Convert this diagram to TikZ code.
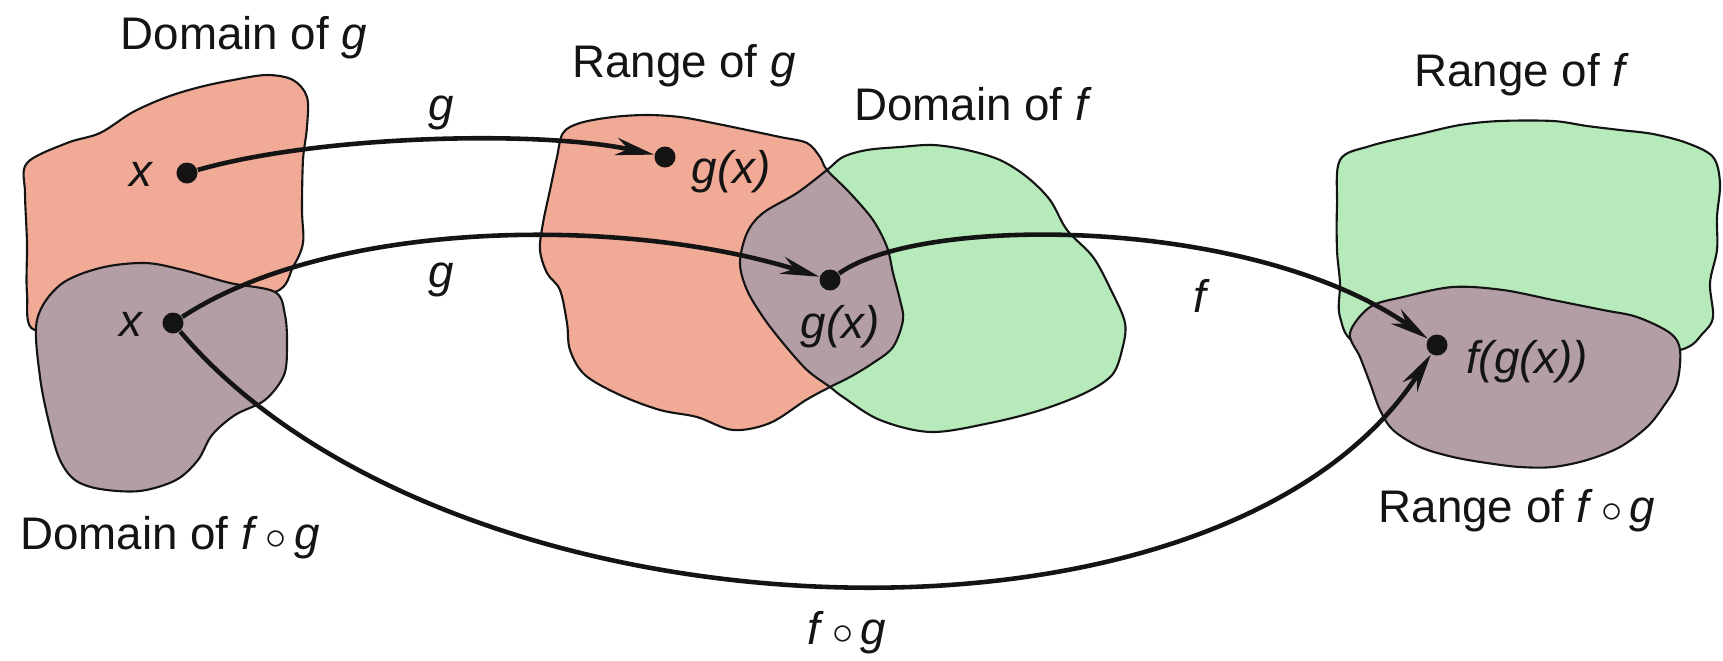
\documentclass[tikz,border=0pt]{standalone}
\usepackage{fontspec}
\setmainfont{Liberation Sans}
\usepackage{tikz}
\usetikzlibrary{arrows.meta}
\definecolor{mypink}{RGB}{240,170,150}
\definecolor{mygreen}{RGB}{182,234,186}
\definecolor{mymauve}{RGB}{180,158,166}
\definecolor{mydark}{RGB}{20,20,20}
\tikzset{
  outline/.style={draw=mydark, line width=0.6pt},
  pinkset/.style={outline, fill=mypink},
  greenset/.style={outline, fill=mygreen},
  mauveset/.style={outline, fill=mymauve},
  elem/.style={circle, fill=mydark, inner sep=0pt, minimum size=0.21cm},
  setlabel/.style={font=\fontsize{13}{15}\selectfont, inner sep=1pt, text=mydark},
  maplabel/.style={font=\fontsize{13}{15}\selectfont\itshape, inner sep=1pt, text=mydark},
  arrow/.style={-{Stealth[length=11pt,width=5pt]}, line width=1.3pt, color=mydark},
  line/.style={line width=1.3pt, color=mydark}
}

\begin{document}
\begin{tikzpicture}[x=0.01cm, y=-0.01cm]
  \useasboundingbox (0,0) rectangle (1723,660);
  % domain of g, domain of f o g
  \draw[pinkset] plot[smooth cycle, tension=0.55] coordinates {
    (27,163) (67,143) (100,133) (133,112) (167,97) (200,87) (233,80) (267,75)
    (293,80) (307,97) (307,127) (303,160) (302,210) (303,243) (293,267) (275,292)
    (200,300) (100,310) (35,330) (27,293) (27,243) (25,193)};
  \draw[mauveset] plot[smooth cycle, tension=0.55] coordinates {
    (37,320) (60,285) (100,268) (145,263) (183,270) (230,283) (275,292) (285,315)
    (287,345) (284,375) (265,400) (235,415) (212,435) (198,460) (176,480) (140,491)
    (100,489) (75,480) (60,460) (50,427) (40,377)};
  % range of g, domain of f
  \path[save path=\rangeg] plot[smooth cycle, tension=0.55] coordinates {
    (557,157) (563,133) (580,123) (613,117) (647,115) (680,117) (713,123) (747,130)
    (780,137) (807,143) (820,157) (827,170) (850,193) (873,220) (887,247) (893,273)
    (900,300) (903,320) (893,347) (873,363) (850,377) (830,387) (806,400) (770,423)
    (733,430) (697,417) (660,410) (620,395) (585,375) (570,350) (567,323)
    (560,290) (547,273) (540,250) (543,223) (550,190)};
  \path[save path=\domainf] plot[smooth cycle, tension=0.55] coordinates {
    (827,170) (843,157) (867,150) (900,147) (933,145) (967,150) (1000,160) (1027,177)
    (1050,200) (1067,230) (1093,257) (1111,290) (1125,323) (1122,350) (1112,375)
    (1085,393) (1041,410) (990,423) (931,432) (880,420) (843,397)
    (830,387) (807,370) (783,343) (763,317) (747,290) (740,263) (747,233) (763,213)
    (797,193)};
  \fill[mypink, use path=\rangeg];
  \fill[mygreen, use path=\domainf];
  \begin{scope}
    \clip[use path=\rangeg];
    \fill[mymauve, use path=\domainf];
  \end{scope}
  \draw[outline, use path=\rangeg];
  \draw[outline, use path=\domainf];
  % range of f, range of f o g
  \draw[greenset] plot[smooth cycle, tension=0.55] coordinates {
    (1340,160) (1370,146) (1420,134) (1460,125) (1500,121) (1553,121)
    (1587,126) (1620,130) (1653,134) (1687,143) (1713,157) (1720,183) (1717,217)
    (1717,250) (1710,283) (1713,317) (1703,333) (1680,350) (1600,360) (1450,360)
    (1360,345) (1340,317) (1340,283) (1337,250) (1337,205)};
  \draw[mauveset] plot[smooth cycle, tension=0.55] coordinates {
    (1350,333) (1370,307) (1403,297) (1453,287) (1503,290) (1553,300) (1603,310)
    (1637,317) (1670,333) (1680,350) (1677,383) (1663,407) (1647,427) (1620,447)
    (1587,460) (1553,467) (1520,467) (1487,463) (1453,457) (1420,447) (1393,430)
    (1380,410) (1370,383) (1360,357)};

  \node[setlabel] (domg) at (244,38) {Domain of \textit{g}};
  \node[setlabel] (rang) at (684,66) {Range of \textit{g}};
  \node[setlabel] (domf) at (973,104) {Domain of \textit{f}};
  \node[setlabel] (ranf) at (1522,75) {Range of \textit{f}};
  \node[setlabel] (domfg) at (170,538) {Domain of \textit{f}\,$\circ$\,\textit{g}};
  \node[setlabel] (ranfg) at (1517,511) {Range of \textit{f}\,$\circ$\,\textit{g}};

  \node[elem] (xa) at (187,173) {};
  \node[elem] (xb) at (173,323) {};
  \node[elem] (gxa) at (665,157) {};
  \node[elem] (gxb) at (830,280) {};
  \node[elem] (fgx) at (1437,345) {};
  \node[maplabel] (xalab) at (141,174) {x};
  \node[maplabel] (xblab) at (131,324) {x};
  \node[maplabel] (gxalab) at (731,172) {g(x)};
  \node[maplabel] (gxblab) at (840,327) {g(x)};
  \node[maplabel] (fgxlab) at (1527,362) {f(g(x))};

  \draw[arrow] (xa) .. controls (320,135) and (540,130) .. (gxa);
  \draw[arrow] (xb) .. controls (330,220) and (620,215) .. (gxb);
  \draw[arrow] (gxb) .. controls (920,215) and (1250,215) .. (fgx);
  \draw[arrow] (xb) .. controls (450,650) and (1220,680) .. (fgx);

  \node[maplabel] (glab1) at (441,113) {g};
  \node[maplabel] (glab2) at (441,280) {g};
  \node[maplabel] (flab) at (1200,296) {f};
  \node[setlabel] (fglab) at (847,633) {\textit{f}\,$\circ$\,\textit{g}};
\end{tikzpicture}
\end{document}
